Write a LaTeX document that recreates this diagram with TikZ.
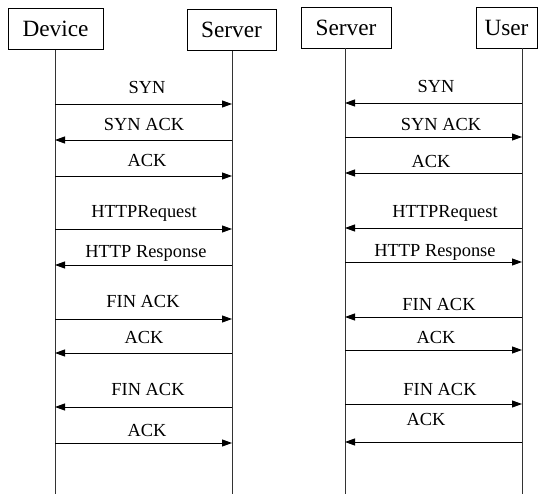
\documentclass[tikz,border=0pt]{standalone}
\usepackage{fontspec}
\setmainfont{Liberation Serif}
\usetikzlibrary{arrows.meta}

\begin{document}
\begin{tikzpicture}[x=1pt, y=-1pt, line cap=butt, >={Triangle[length=10pt,width=7pt]},
  actor/.style={draw, line width=0.8pt, minimum height=41pt, inner sep=0pt,
    font=\fontsize{23.3}{26}\selectfont},
  life/.style={line width=0.9pt, black!80},
  msg/.style={->, line width=0.9pt},
  lbl/.style={anchor=base, inner sep=0pt, font=\fontsize{18.4}{20}\selectfont}]
  \useasboundingbox (0,0) rectangle (538,494);
  % participants
  \node[actor, minimum width=95pt] (dev) at (55.5,29) {Device};
  \node[actor, minimum width=89pt] (srvA) at (231.5,30) {Server};
  \node[actor, minimum width=90pt] (srvB) at (346,27.5) {Server};
  \node[actor, minimum width=61pt] (usr) at (506.5,27.5) {User};
  \coordinate (devL) at (55,50);
  \coordinate (srvAL) at (232,51);
  \coordinate (srvBL) at (345,48);
  \coordinate (usrL) at (522,48);
  % lifelines
  \foreach \p in {devL, srvAL, srvBL, usrL}
    \draw[life] (\p) -- (\p |- 0,494);
  % device <-> server
  \foreach \ya/\yt/\from/\to/\xt/\txt [count=\i] in {
      104/94/devL/srvAL/147/SYN,
      140/131/srvAL/devL/144/SYN ACK,
      176/167/devL/srvAL/147/ACK,
      229/218/devL/srvAL/144/HTTPRequest,
      265/258/srvAL/devL/146/HTTP Response,
      319/308/devL/srvAL/143/FIN ACK,
      353/343/srvAL/devL/144/ACK,
      407/395/srvAL/devL/148/FIN ACK,
      443/436/devL/srvAL/147/ACK}
  {
    \draw[msg] (\from |- 0,\ya) -- (\to |- 0,\ya);
    \node[lbl] (la\i) at (\xt,\yt) {\txt};
  }
  % server <-> user
  \foreach \ya/\yt/\from/\to/\xt/\txt [count=\i] in {
      103/93/usrL/srvBL/436/SYN,
      137/131/srvBL/usrL/441/SYN ACK,
      173/168/usrL/srvBL/431/ACK,
      228/218/usrL/srvBL/445/HTTPRequest,
      262/257/srvBL/usrL/435/HTTP Response,
      317/310/usrL/srvBL/439/FIN ACK,
      350/343/srvBL/usrL/436/ACK,
      404/395/srvBL/usrL/440/FIN ACK,
      442/425/usrL/srvBL/426/ACK}
  {
    \draw[msg] (\from |- 0,\ya) -- (\to |- 0,\ya);
    \node[lbl] (lb\i) at (\xt,\yt) {\txt};
  }
\end{tikzpicture}
\end{document}
